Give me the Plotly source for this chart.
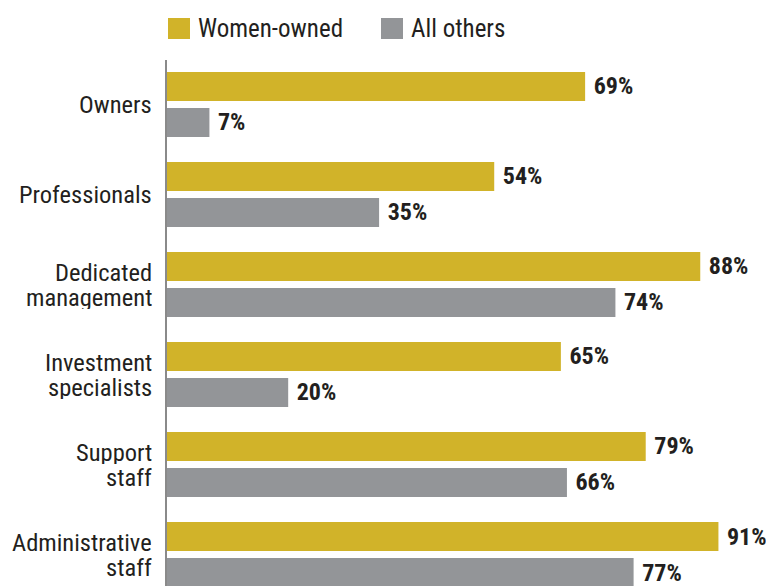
import plotly.graph_objects as go

categories = ["Owners", "Professionals", "Dedicated<br>management",
              "Investment<br>specialists", "Support<br>staff", "Administrative<br>staff"]
women_owned = [69, 54, 88, 65, 79, 91]
all_others = [7, 35, 74, 20, 66, 77]
series_names = ["Women-owned", "All others"]

GOLD = "#D1B329"
GRAY = "#939598"
TEXT = "#231F20"
FONT = "Roboto Condensed, DejaVu Sans Condensed, sans-serif"

W, H = 766, 586
ML, MT = 167, 60
PW, PH = W - ML, H - MT


def px_x(x):
    return (x - ML) / PW


def px_y(y):
    return (H - y) / PH


fig = go.Figure()
fig.add_trace(go.Bar(
    y=categories, x=women_owned, orientation="h", name=series_names[0],
    marker=dict(color=GOLD, line=dict(width=0)),
    offset=-0.361, width=0.322,
    texttemplate="\u00a0%{x}%", textposition="outside", constraintext="none",
    cliponaxis=False,
    textfont=dict(family=FONT, size=24, color=TEXT, weight="bold"),
    showlegend=False,
))
fig.add_trace(go.Bar(
    y=categories, x=all_others, orientation="h", name=series_names[1],
    marker=dict(color=GRAY, line=dict(width=0)),
    offset=0.039, width=0.322,
    texttemplate="\u00a0%{x}%", textposition="outside", constraintext="none",
    cliponaxis=False,
    textfont=dict(family=FONT, size=24, color=TEXT, weight="bold"),
    showlegend=False,
))

# category labels (tight line spacing like the reference)
annotations = []
for cat in categories:
    lines = cat.split("<br>")
    n = len(lines)
    for i, line in enumerate(lines):
        shift = (n - 1) / 2 * 24.5 - i * 24.5
        annotations.append(dict(
            x=px_x(153), xref="paper", y=cat, yref="y", yshift=shift,
            text=line, showarrow=False, xanchor="right", yanchor="middle",
            height=24, valign="middle", borderpad=0,
            font=dict(family=FONT, size=24.5, color=TEXT),
        ))

# legend
shapes = []
legend_items = [(series_names[0], GOLD, 168), (series_names[1], GRAY, 381)]
for name, color, x0 in legend_items:
    shapes.append(dict(type="rect", xref="paper", yref="paper",
                       x0=px_x(x0), x1=px_x(x0 + 22), y0=px_y(39), y1=px_y(18),
                       fillcolor=color, line=dict(width=0)))
    annotations.append(dict(
        x=px_x(x0 + 28), xref="paper", y=px_y(29), yref="paper",
        text=name, showarrow=False, xanchor="left", yanchor="middle",
        font=dict(family=FONT, size=25, color=TEXT),
    ))

fig.update_layout(
    width=W, height=H,
    margin=dict(l=ML, r=0, t=MT, b=0),
    paper_bgcolor="white", plot_bgcolor="white",
    barmode="overlay",
    showlegend=False,
    xaxis=dict(range=[0, 98.85], visible=False, showgrid=False, zeroline=False),
    yaxis=dict(type="category", categoryorder="array", categoryarray=categories,
               range=[5.35, -0.494], autorange=False,
               showticklabels=False, showgrid=False, zeroline=False,
               showline=True, linecolor="#8A8A8A", linewidth=2, ticks=""),
    shapes=shapes,
    annotations=annotations,
)

fig.write_html("out.html")
